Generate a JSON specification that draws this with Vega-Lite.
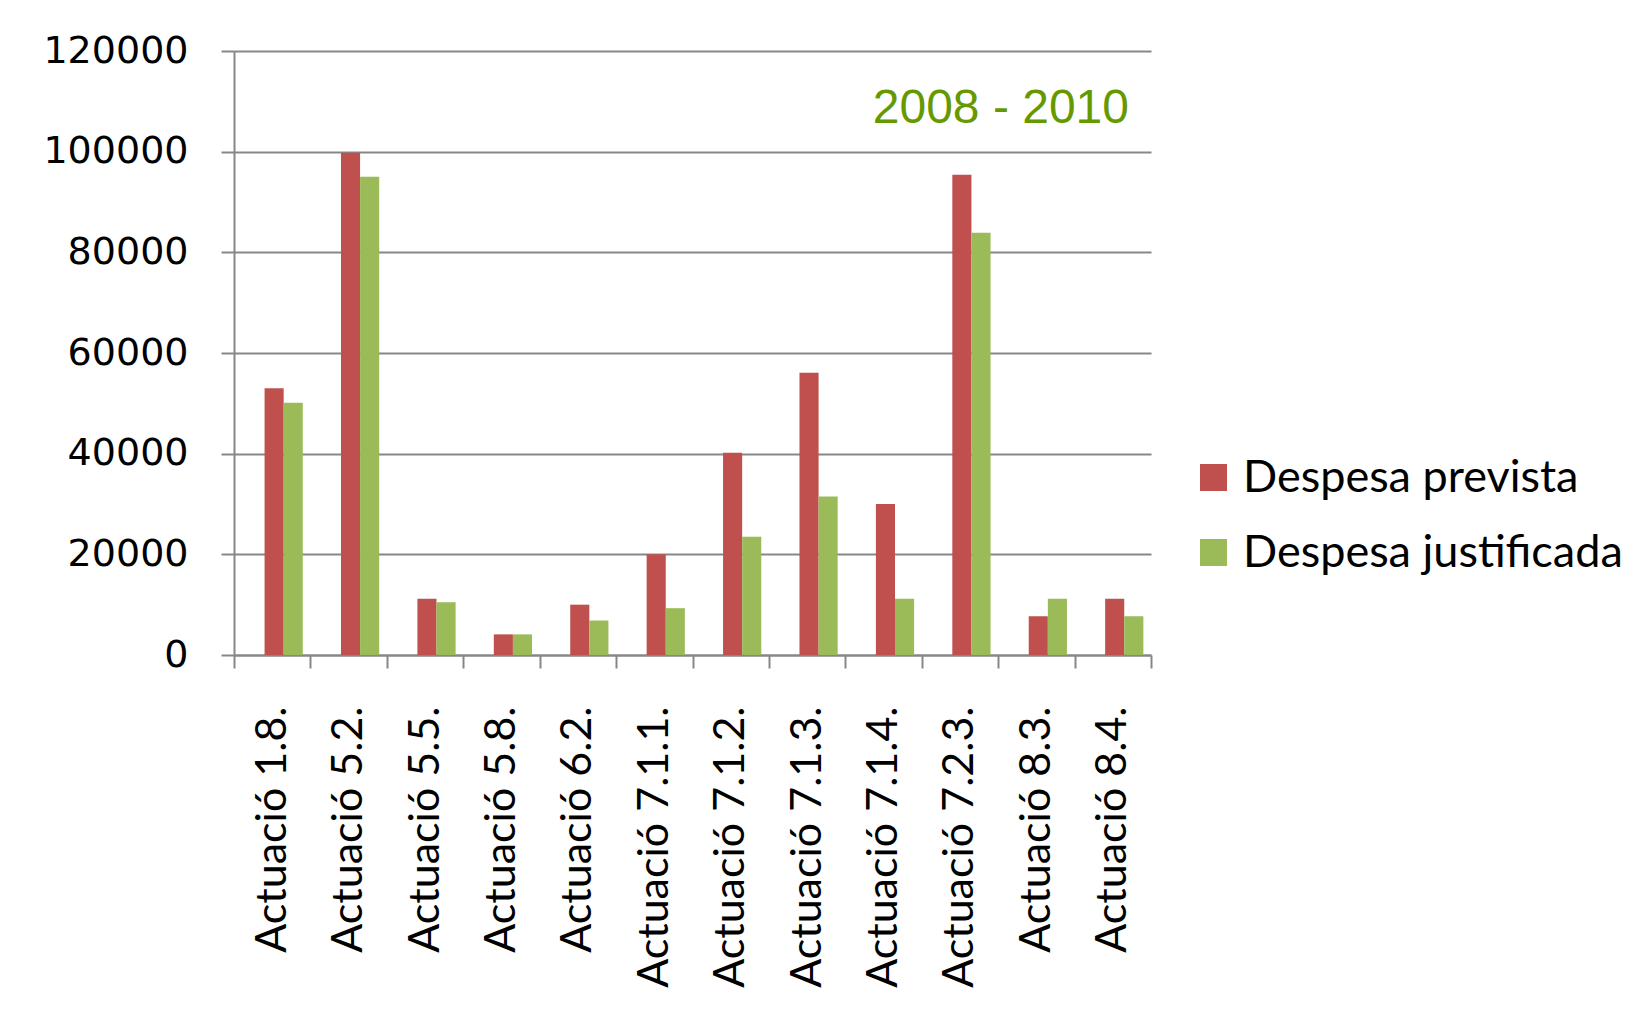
{
  "$schema": "https://vega.github.io/schema/vega-lite/v6.json",
  "width": 917,
  "height": 604,
  "autosize": {"type": "none"},
  "padding": {"left": 234, "top": 51, "right": 496, "bottom": 361},
  "background": "white",
  "config": {"view": {"stroke": null}},
  "title": {
    "text": "2008 - 2010",
    "anchor": "end",
    "orient": "top",
    "frame": "group",
    "baseline": "alphabetic",
    "offset": -72,
    "dx": -22,
    "dy": 67,
    "fontSize": 48,
    "font": "Liberation Sans",
    "fontWeight": "normal",
    "color": "#669900"
  },
  "data": {
    "values": [
      {"actuacio": "Actuació 1.8.", "tipus": "Despesa prevista", "valor": 53000},
      {"actuacio": "Actuació 1.8.", "tipus": "Despesa justificada", "valor": 50100},
      {"actuacio": "Actuació 5.2.", "tipus": "Despesa prevista", "valor": 99800},
      {"actuacio": "Actuació 5.2.", "tipus": "Despesa justificada", "valor": 95000},
      {"actuacio": "Actuació 5.5.", "tipus": "Despesa prevista", "valor": 11200},
      {"actuacio": "Actuació 5.5.", "tipus": "Despesa justificada", "valor": 10500},
      {"actuacio": "Actuació 5.8.", "tipus": "Despesa prevista", "valor": 4100},
      {"actuacio": "Actuació 5.8.", "tipus": "Despesa justificada", "valor": 4100},
      {"actuacio": "Actuació 6.2.", "tipus": "Despesa prevista", "valor": 10000},
      {"actuacio": "Actuació 6.2.", "tipus": "Despesa justificada", "valor": 6850},
      {"actuacio": "Actuació 7.1.1.", "tipus": "Despesa prevista", "valor": 20000},
      {"actuacio": "Actuació 7.1.1.", "tipus": "Despesa justificada", "valor": 9300},
      {"actuacio": "Actuació 7.1.2.", "tipus": "Despesa prevista", "valor": 40200},
      {"actuacio": "Actuació 7.1.2.", "tipus": "Despesa justificada", "valor": 23500},
      {"actuacio": "Actuació 7.1.3.", "tipus": "Despesa prevista", "valor": 56100},
      {"actuacio": "Actuació 7.1.3.", "tipus": "Despesa justificada", "valor": 31500},
      {"actuacio": "Actuació 7.1.4.", "tipus": "Despesa prevista", "valor": 30000},
      {"actuacio": "Actuació 7.1.4.", "tipus": "Despesa justificada", "valor": 11200},
      {"actuacio": "Actuació 7.2.3.", "tipus": "Despesa prevista", "valor": 95400},
      {"actuacio": "Actuació 7.2.3.", "tipus": "Despesa justificada", "valor": 83900},
      {"actuacio": "Actuació 8.3.", "tipus": "Despesa prevista", "valor": 7700},
      {"actuacio": "Actuació 8.3.", "tipus": "Despesa justificada", "valor": 11200},
      {"actuacio": "Actuació 8.4.", "tipus": "Despesa prevista", "valor": 11200},
      {"actuacio": "Actuació 8.4.", "tipus": "Despesa justificada", "valor": 7700}
    ]
  },
  "mark": {"type": "bar"},
  "encoding": {
    "x": {
      "field": "actuacio",
      "type": "nominal",
      "sort": null,
      "scale": {"paddingInner": 0, "paddingOuter": 0},
      "axis": {
        "title": null,
        "labelAngle": -90,
        "labelFont": "Lato",
        "labelFontSize": 43,
        "labelColor": "#000000",
        "labelPadding": 38,
        "labelLimit": 1000,
        "tickSize": 13,
        "tickBand": "extent",
        "tickColor": "#878787",
        "tickWidth": 2,
        "domainColor": "#878787",
        "domainWidth": 2,
        "grid": false,
        "labelOverlap": false
      }
    },
    "xOffset": {
      "field": "tipus",
      "type": "nominal",
      "sort": ["Despesa prevista", "Despesa justificada"],
      "scale": {"paddingInner": 0, "paddingOuter": 1.3, "align": 0.8}
    },
    "y": {
      "field": "valor",
      "type": "quantitative",
      "scale": {"domain": [0, 120000], "nice": false},
      "axis": {
        "title": null,
        "values": [0, 20000, 40000, 60000, 80000, 100000, 120000],
        "format": "d",
        "labelFont": "DejaVu Sans",
        "labelFontSize": 38,
        "labelColor": "#000000",
        "labelPadding": 33,
        "tickSize": 13,
        "tickColor": "#878787",
        "tickWidth": 2,
        "domainColor": "#878787",
        "domainWidth": 2,
        "grid": true,
        "gridColor": "#878787",
        "gridWidth": 2
      }
    },
    "color": {
      "field": "tipus",
      "type": "nominal",
      "sort": ["Despesa prevista", "Despesa justificada"],
      "scale": {"domain": ["Despesa prevista", "Despesa justificada"], "range": ["#C0504D", "#9BBB59"]},
      "legend": {
        "title": null,
        "orient": "none",
        "legendX": 957,
        "legendY": 404,
        "symbolType": "square",
        "symbolSize": 729,
        "symbolStrokeWidth": 0,
        "symbolOpacity": 1,
        "labelFont": "Lato",
        "labelFontSize": 45,
        "labelColor": "#000000",
        "labelOffset": 7,
        "rowPadding": 29,
        "labelLimit": 600
      }
    }
  }
}
